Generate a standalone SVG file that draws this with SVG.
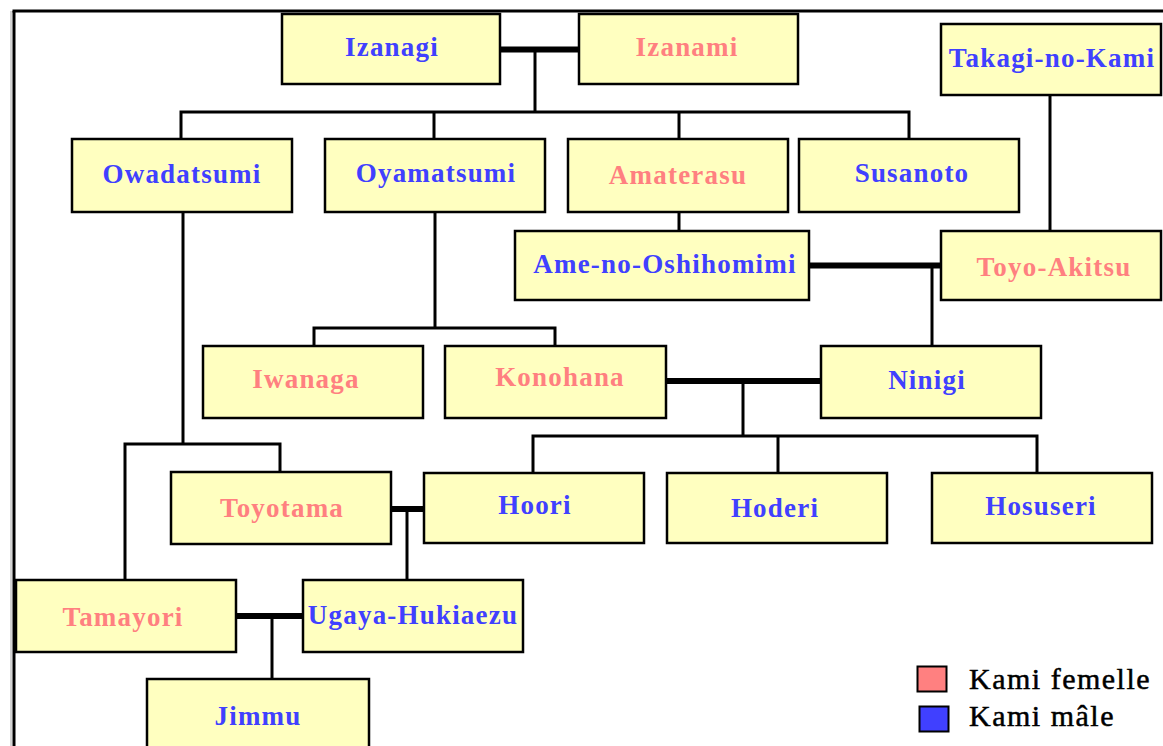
<svg xmlns="http://www.w3.org/2000/svg" width="1163" height="746" viewBox="0 0 1163 746">
<style>
.box{fill:#FFFFC0;stroke:#000;stroke-width:2.5}
.t{font-family:"Liberation Serif","Times New Roman",serif;font-weight:bold;font-size:27px;letter-spacing:1.2px;text-anchor:middle}
.m{fill:#4040FF}
.f{fill:#FF8080}
.ln{stroke:#000;stroke-width:3;fill:none}
.mar{stroke:#000;stroke-width:6;fill:none}
.lg{font-family:"Liberation Serif","Times New Roman",serif;font-size:30px;letter-spacing:1.5px;fill:#000;stroke:#000;stroke-width:0.5}
</style>
<rect width="1163" height="746" fill="#fff"/>
<g id="frame">
<line x1="11" y1="11" x2="11" y2="746" stroke="#aaa" stroke-width="1"/>
<line x1="14" y1="11" x2="14" y2="746" stroke="#000" stroke-width="3"/>
<line x1="12.5" y1="11" x2="1163" y2="11" stroke="#000" stroke-width="3"/>
</g>
<g id="connectors">
<line class="mar" x1="500" y1="49.5" x2="579" y2="49.5"/>
<polyline class="ln" points="535,49.5 535,112"/>
<polyline class="ln" points="181,139 181,112 909,112 909,139"/>
<line class="ln" x1="434" y1="112" x2="434" y2="139"/>
<line class="ln" x1="679" y1="112" x2="679" y2="139"/>
<line class="ln" x1="1050" y1="95" x2="1050" y2="231"/>
<line class="ln" x1="679" y1="212" x2="679" y2="231"/>
<line class="mar" x1="809" y1="265.5" x2="941" y2="265.5"/>
<line class="ln" x1="932" y1="265.5" x2="932" y2="346"/>
<polyline class="ln" points="435,212 435,328"/>
<polyline class="ln" points="314,346 314,328 555,328 555,346"/>
<line class="mar" x1="666" y1="381" x2="821" y2="381"/>
<line class="ln" x1="743" y1="381" x2="743" y2="436"/>
<polyline class="ln" points="533,473 533,436 1037,436 1037,473"/>
<line class="ln" x1="778" y1="436" x2="778" y2="473"/>
<line class="ln" x1="183" y1="212" x2="183" y2="444"/>
<polyline class="ln" points="125,580 125,444 280,444 280,472"/>
<line class="mar" x1="391" y1="509" x2="424" y2="509"/>
<line class="ln" x1="407" y1="509" x2="407" y2="580"/>
<line class="mar" x1="236" y1="616" x2="303" y2="616"/>
<line class="ln" x1="272" y1="616" x2="272" y2="679"/>
</g>
<g id="izanagi"><rect class="box" x="282" y="14" width="218" height="70"/><text class="t m" x="392" y="56">Izanagi</text></g>
<g id="izanami"><rect class="box" x="579" y="14" width="219" height="70"/><text class="t f" x="687" y="56">Izanami</text></g>
<g id="takagi"><rect class="box" x="941" y="24" width="220" height="71"/><text class="t m" x="1052" y="67">Takagi-no-Kami</text></g>
<g id="owadatsumi"><rect class="box" x="72" y="139" width="220" height="73"/><text class="t m" x="182" y="183">Owadatsumi</text></g>
<g id="oyamatsumi"><rect class="box" x="325" y="139" width="220" height="73"/><text class="t m" x="436" y="182">Oyamatsumi</text></g>
<g id="amaterasu"><rect class="box" x="568" y="139" width="220" height="73"/><text class="t f" x="678" y="184">Amaterasu</text></g>
<g id="susanoto"><rect class="box" x="799" y="139" width="220" height="73"/><text class="t m" x="912" y="182">Susanoto</text></g>
<g id="ame"><rect class="box" x="515" y="231" width="294" height="69"/><text class="t m" x="665" y="273">Ame-no-Oshihomimi</text></g>
<g id="toyoakitsu"><rect class="box" x="941" y="231" width="220" height="69"/><text class="t f" x="1054" y="276">Toyo-Akitsu</text></g>
<g id="iwanaga"><rect class="box" x="203" y="346" width="220" height="72"/><text class="t f" x="306" y="388">Iwanaga</text></g>
<g id="konohana"><rect class="box" x="445" y="346" width="221" height="72"/><text class="t f" x="560" y="386">Konohana</text></g>
<g id="ninigi"><rect class="box" x="821" y="346" width="220" height="72"/><text class="t m" x="927" y="389">Ninigi</text></g>
<g id="toyotama"><rect class="box" x="171" y="472" width="220" height="72"/><text class="t f" x="282" y="517">Toyotama</text></g>
<g id="hoori"><rect class="box" x="424" y="473" width="220" height="70"/><text class="t m" x="535" y="514">Hoori</text></g>
<g id="hoderi"><rect class="box" x="667" y="473" width="220" height="70"/><text class="t m" x="775" y="517">Hoderi</text></g>
<g id="hosuseri"><rect class="box" x="932" y="473" width="220" height="70"/><text class="t m" x="1041" y="515">Hosuseri</text></g>
<g id="tamayori"><rect class="box" x="16" y="580" width="220" height="72"/><text class="t f" x="123" y="626">Tamayori</text></g>
<g id="ugaya"><rect class="box" x="303" y="580" width="220" height="72"/><text class="t m" x="413" y="624">Ugaya-Hukiaezu</text></g>
<g id="jimmu"><rect class="box" x="147" y="679" width="222" height="80"/><text class="t m" x="258" y="725">Jimmu</text></g>
<g id="legend">
<rect x="917.5" y="666.5" width="29" height="25" fill="#FF8080" stroke="#000" stroke-width="2"/>
<rect x="919.5" y="706.5" width="29" height="25" fill="#4040FF" stroke="#000" stroke-width="2"/>
<text class="lg" x="969" y="689">Kami femelle</text>
<text class="lg" x="969" y="726">Kami mâle</text>
</g>
</svg>
